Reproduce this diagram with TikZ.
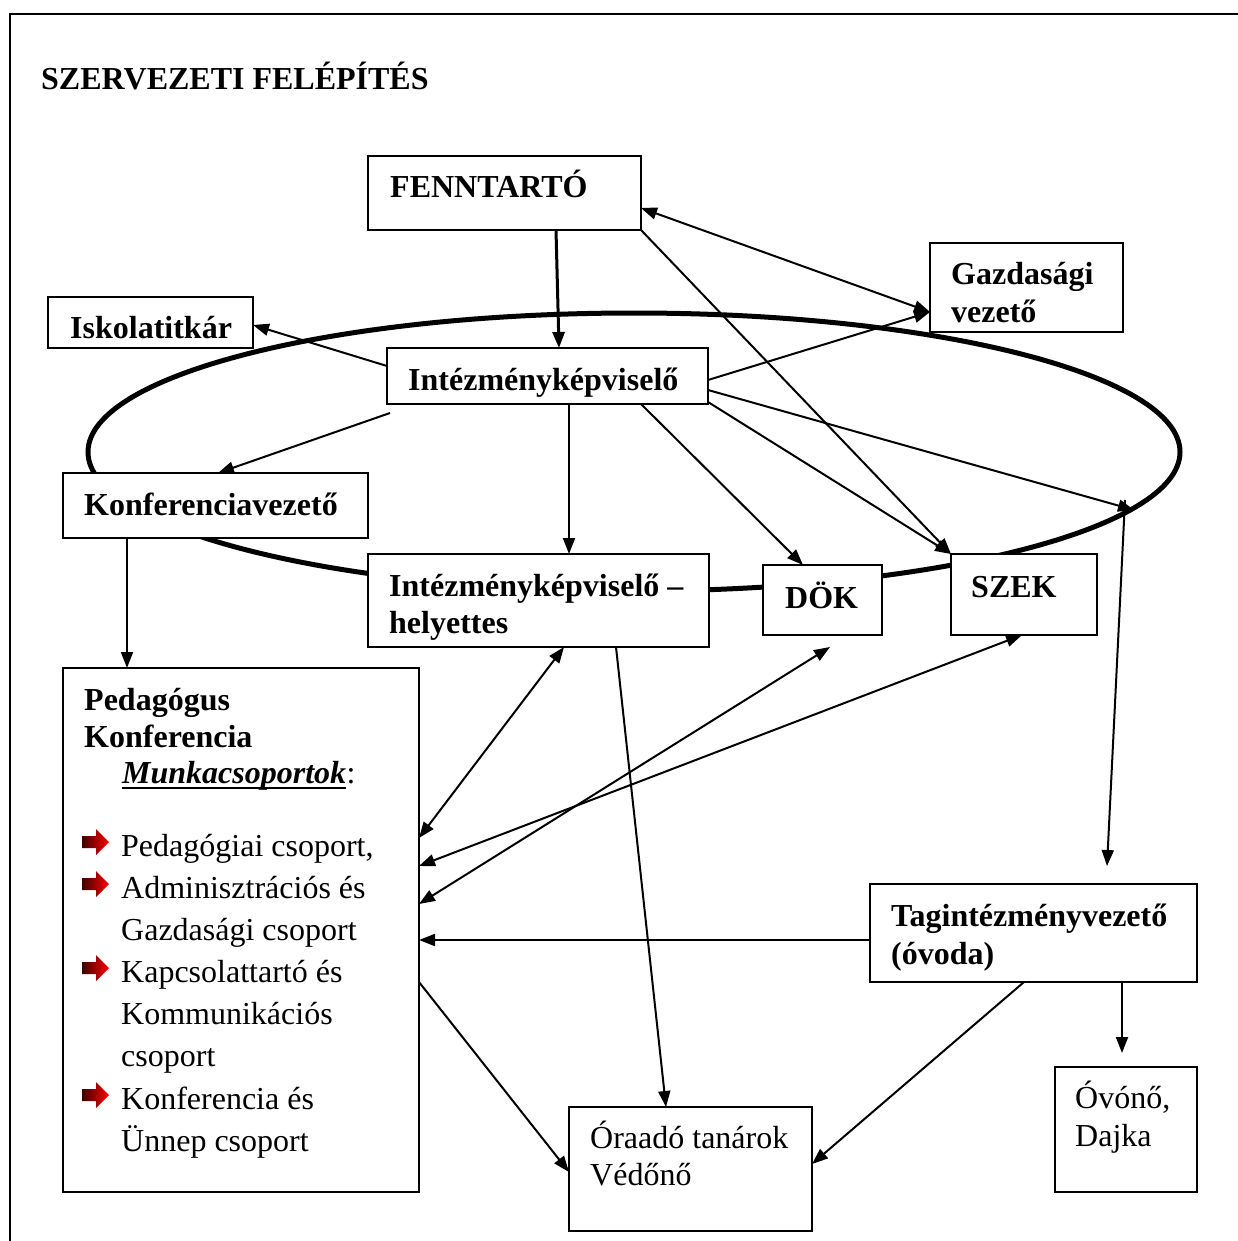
\documentclass[tikz,border=0pt]{standalone}
\usepackage{fontspec}
\setmainfont{Liberation Serif}
\usetikzlibrary{arrows.meta}
\begin{document}
\begin{tikzpicture}[x=1pt,y=-1pt,
  box/.style={draw, line width=2pt, fill=white, inner sep=0pt, outer sep=0pt, anchor=north west},
  txt/.style={inner sep=0pt, anchor=base west, font=\fontsize{32}{42}\selectfont},
  btxt/.style={inner sep=0pt, anchor=base west, font=\fontsize{32}{42}\selectfont\bfseries},
  tip/.tip={Triangle[length=16pt,width=12pt]},
  conn/.style={line width=2pt, -tip},
  dconn/.style={line width=2pt, tip-tip},
  bul/.style={left color=red!25!black, right color=red, draw=none}
]
\useasboundingbox (0,0) rectangle (1238,1241);
% outer frame
\draw[line width=2pt] (10,1241) -- (10,14) -- (1238,14);
% ellipse
\draw[line width=5pt] (634,452) ellipse [x radius=546, y radius=139];
% boxes
\node[box, minimum width=273pt, minimum height=74pt] (fenn) at (368,156) {};
\node[box, minimum width=193pt, minimum height=89pt] (gazd) at (930,243) {};
\node[box, minimum width=205pt, minimum height=51pt] (isk) at (48,297) {};
\node[box, minimum width=321pt, minimum height=56pt] (ikep) at (387,348) {};
\node[box, minimum width=305pt, minimum height=65pt] (konf) at (63,473) {};
\node[box, minimum width=341pt, minimum height=93pt] (hely) at (368,554) {};
\node[box, minimum width=119pt, minimum height=70pt] (dok) at (763,565) {};
\node[box, minimum width=146pt, minimum height=81pt] (szek) at (951,554) {};
\node[box, minimum width=356pt, minimum height=524pt] (ped) at (63,668) {};
\node[box, minimum width=327pt, minimum height=98pt] (tag) at (870,884) {};
\node[box, minimum width=142pt, minimum height=125pt] (ovo) at (1055,1067) {};
\node[box, minimum width=243pt, minimum height=124pt] (ora) at (569,1107) {};
% relay coordinates
\coordinate (r1) at (1134,510);
\coordinate (r2) at (1125,500);
% connectors
\draw[line width=3pt, -tip] ([xshift=188pt]fenn.south west) -- ([xshift=172pt]ikep.north west);
\draw[dconn] ([yshift=-52pt]fenn.north east) -- ([yshift=-69pt]gazd.north west);
\draw[conn] ([yshift=-32pt]ikep.north east) -- ([yshift=-69pt]gazd.north west);
\draw[conn] (fenn.south east) -- (szek.north west);
\draw[conn] ([yshift=2pt]ikep.south east) -- (szek.north west);
\draw[conn] ([yshift=-42pt]ikep.north east) -- (r1);
\draw[conn] (r2) -- ([xshift=237pt,yshift=18pt]tag.north west);
\draw[conn] ([yshift=-18pt]ikep.north west) -- ([yshift=-28pt]isk.north east);
\draw[conn] ([xshift=3pt,yshift=-9pt]ikep.south west) -- ([xshift=155pt]konf.north west);
\draw[conn] ([xshift=182pt]ikep.south west) -- ([xshift=201pt]hely.north west);
\draw[conn] ([xshift=254pt]ikep.south west) -- ([xshift=40pt]dok.north west);
\draw[conn] ([xshift=64pt]konf.south west) -- ([xshift=64pt]ped.north west);
\draw[dconn] ([yshift=-170pt]ped.north east) -- ([xshift=196pt]hely.south west);
\draw[dconn] ([yshift=-198pt]ped.north east) -- ([xshift=71pt]szek.south west);
\draw[dconn] ([yshift=-236pt]ped.north east) -- ([xshift=67pt,yshift=-12pt]dok.south west);
\draw[conn] ([yshift=-56pt]tag.north west) -- ([yshift=-272pt]ped.north east);
\draw[conn] ([xshift=248pt]hely.south west) -- ([xshift=97pt]ora.north west);
\draw[conn] ([yshift=-314pt]ped.north east) -- ([yshift=-65pt]ora.north west);
\draw[conn] ([xshift=154pt]tag.south west) -- ([yshift=-57pt]ora.north east);
\draw[conn] ([xshift=252pt]tag.south west) -- ([xshift=67pt,yshift=14pt]ovo.north west);
% texts
\node[btxt] (title) at (41,90) {SZERVEZETI FELÉPÍTÉS};
\node[btxt] (fenn-t) at (390,198) {FENNTARTÓ};
\node[btxt] (gazd-t1) at (951,284) {Gazdasági};
\node[btxt] (gazd-t2) at (951,322) {vezető};
\node[btxt] (isk-t) at (70,338) {Iskolatitkár};
\node[btxt] (ikep-t) at (408,390) {Intézményképviselő};
\node[btxt] (konf-t) at (84,515) {Konferenciavezető};
\node[btxt] (hely-t1) at (389,596) {Intézményképviselő –};
\node[btxt] (hely-t2) at (389,633) {helyettes};
\node[btxt] (dok-t) at (785,608) {DÖK};
\node[btxt] (szek-t) at (971,597) {SZEK};
\node[btxt] (ped-t1) at (84,710) {Pedagógus};
\node[btxt] (ped-t2) at (84,747) {Konferencia};
\node[btxt, font=\fontsize{32}{42}\selectfont\bfseries\itshape] (munka) at (122,783) {Munkacsoportok};
\node[txt] (colon) at (munka.base east) {:};
\draw[line width=2.5pt] ([yshift=-5pt]munka.base west) -- ([yshift=-5pt]munka.base east);
\node[txt] (l1) at (121,856) {Pedagógiai csoport,};
\node[txt] (l2) at (121,898) {Adminisztrációs és};
\node[txt] (l3) at (121,940) {Gazdasági csoport};
\node[txt] (l4) at (121,982) {Kapcsolattartó és};
\node[txt] (l5) at (121,1024) {Kommunikációs};
\node[txt] (l6) at (121,1066) {csoport};
\node[txt] (l7) at (121,1109) {Konferencia és};
\node[txt] (l8) at (121,1151) {Ünnep csoport};
\foreach \yy in {842,884,968,1095} {
  \shade[bul] (82,\yy-6) -- (96,\yy-6) -- (96,\yy-13) -- (109,\yy) -- (96,\yy+13) -- (96,\yy+6) -- (82,\yy+6) -- cycle;
}
\node[btxt] (tag-t1) at (891,926) {Tagintézményvezető};
\node[btxt] (tag-t2) at (891,964) {(óvoda)};
\node[txt] (ovo-t1) at (1075,1108) {Óvónő,};
\node[txt] (ovo-t2) at (1075,1146) {Dajka};
\node[txt] (ora-t1) at (590,1148) {Óraadó tanárok};
\node[txt] (ora-t2) at (590,1185) {Védőnő};
\end{tikzpicture}
\end{document}
